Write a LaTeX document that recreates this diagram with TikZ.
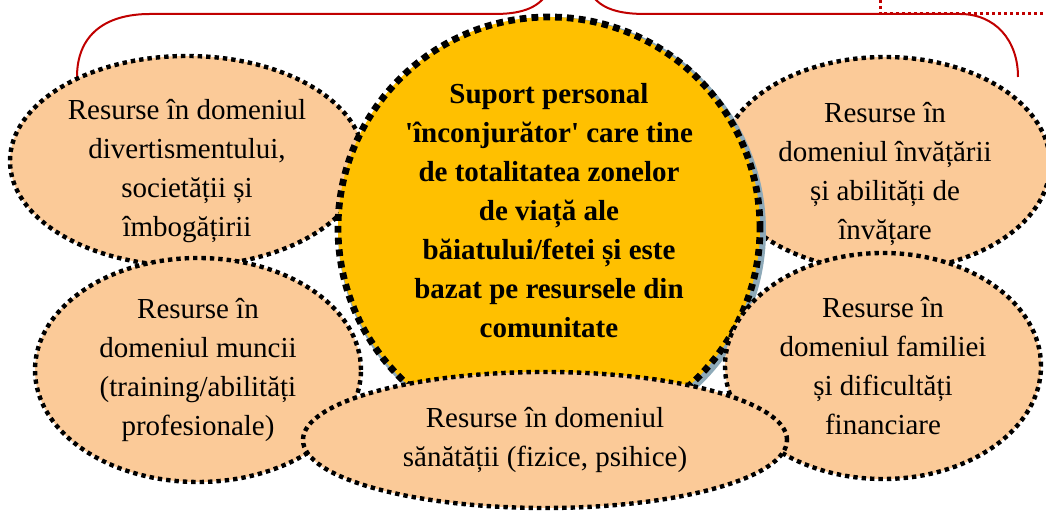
\documentclass[tikz,border=0pt]{standalone}
\usepackage{fontspec}
\setmainfont{Liberation Serif}
\usetikzlibrary{shapes.geometric}
\definecolor{peach}{HTML}{FBCA98}
\definecolor{coregold}{HTML}{FFC000}
\definecolor{bracered}{HTML}{C00000}
\definecolor{shadeblue}{HTML}{8EAAB9}

\begin{document}
\begin{tikzpicture}[x=0.5pt, y=-0.5pt,
  area/.style={ellipse, draw=black, fill=peach, line width=2.2pt, dash pattern=on 2.2pt off 2pt,
    inner sep=0pt, align=center, font=\fontsize{14.5}{19.5}\selectfont},
  toparea/.style={area, inner ysep=-5pt},
  core/.style={circle, draw=black, fill=coregold, line width=3.4pt, dash pattern=on 3.4pt off 2.5pt,
    minimum size=211pt, inner sep=0pt},
  coreshade/.style={circle, fill=shadeblue, minimum size=214pt, inner sep=0pt},
  bracepath/.style={draw=bracered, line width=1pt},
  reddots/.style={draw=bracered, line width=1.5pt, dash pattern=on 1.5pt off 1.5pt}]
  \useasboundingbox (0,0) rectangle (1046,512);
  \clip (0,0) rectangle (1046,512);

  % brace over the top
  \draw[bracepath] (77,77) .. controls (77,35) and (105,14) .. (150,14) -- (495,14)
    .. controls (525,14) and (540,6) .. (548,-8);
  \draw[bracepath] (590,-8) .. controls (598,6) and (613,14) .. (645,14) -- (960,14)
    .. controls (995,14) and (1018,40) .. (1018,77);
  \draw[reddots] (880,0) -- (880,14) -- (1046,14);

  % Upper row
  \node[toparea, minimum width=177pt, minimum height=105pt] (leisure) at (187,161)
    {\rule{0pt}{20pt}Resurse în domeniul\\divertismentului,\\societății și\\îmbogățirii};
  \node[toparea, minimum width=165pt, minimum height=107pt] (learning) at (885,164)
    {\rule{0pt}{20pt}Resurse în\\domeniul învățării\\și abilități de\\învățare};

  % Centre
  \node[coreshade] (shade) at (552,231) {};
  \node[core] (support) at (549,228) {};
  \node[align=center, inner sep=0pt, font=\fontsize{14.5}{19.5}\selectfont\bfseries] (supporttext) at (549,211)
    {Suport personal\\\textquotesingle înconjurător\textquotesingle{} care tine\\de totalitatea zonelor\\de viață ale\\băiatului/fetei și este\\bazat pe resursele din\\comunitate};

  % Lower row
  \node[area, minimum width=163pt, minimum height=112pt] (work) at (198,370)
    {Resurse în\\domeniul muncii\\(training/abilități\\profesionale)};
  \node[area, minimum width=158pt, minimum height=113pt] (family) at (883,366)
    {Resurse în\\domeniul familiei\\și dificultăți\\financiare};
  \node[area, minimum width=242pt, minimum height=68pt] (health) at (545,440)
    {Resurse în domeniul\\sănătății (fizice, psihice)};
\end{tikzpicture}
\end{document}
